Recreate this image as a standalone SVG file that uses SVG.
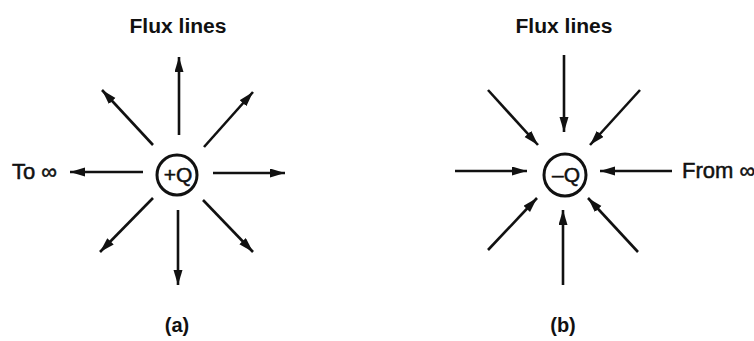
<svg xmlns="http://www.w3.org/2000/svg" width="754" height="341" viewBox="0 0 754 341">
  <style>
    .bg { fill: #ffffff; }
    .flux { stroke: #111; stroke-width: 2.6; fill: none; marker-end: url(#head); }
    .charge { fill: none; stroke: #111; stroke-width: 3; }
    .lbl { font-family: "Liberation Sans", Arial, sans-serif; fill: #111; }
    .title { font-size: 20px; font-weight: bold; text-anchor: middle; }
    .cap { font-size: 20px; font-weight: bold; text-anchor: middle; }
    .side { font-size: 22px; stroke: #111; stroke-width: 0.5; }
    .q { font-size: 21px; text-anchor: middle; stroke: #111; stroke-width: 0.5; }
  </style>
  <defs>
    <marker id="head" markerUnits="userSpaceOnUse" markerWidth="16" markerHeight="10" refX="15" refY="4.5" orient="auto">
      <path d="M0,0 L15,4.5 L0,9 Z" fill="#111"/>
    </marker>
  </defs>
  <rect class="bg" x="0" y="0" width="754" height="341"/>

  <!-- (a) positive charge: flux lines leave the charge -->
  <g id="pos-charge">
    <circle class="charge" cx="177" cy="175" r="20"/>
    <text class="lbl q" x="178" y="182">+Q</text>
  </g>
  <g id="pos-labels">
    <text class="lbl title" x="178" y="33" textLength="97" lengthAdjust="spacingAndGlyphs">Flux lines</text>
    <text class="lbl side" x="12" y="179">To ∞</text>
    <text class="lbl cap" x="177" y="332">(a)</text>
  </g>
  <g id="pos-flux">
    <line class="flux" x1="179" y1="135" x2="179" y2="57"/>
    <line class="flux" x1="178" y1="210" x2="178" y2="285"/>
    <line class="flux" x1="143" y1="172" x2="70" y2="172"/>
    <line class="flux" x1="213" y1="173" x2="285" y2="173"/>
    <line class="flux" x1="153" y1="145" x2="102" y2="90"/>
    <line class="flux" x1="204" y1="147" x2="253" y2="92"/>
    <line class="flux" x1="153" y1="198" x2="100" y2="252"/>
    <line class="flux" x1="203" y1="200" x2="253" y2="252"/>
  </g>

  <!-- (b) negative charge: flux lines end on the charge -->
  <g id="neg-charge">
    <circle class="charge" cx="565" cy="175" r="21"/>
    <text class="lbl q" x="566" y="182">–Q</text>
  </g>
  <g id="neg-labels">
    <text class="lbl title" x="564" y="33" textLength="97" lengthAdjust="spacingAndGlyphs">Flux lines</text>
    <text class="lbl side" x="682" y="178">From ∞</text>
    <text class="lbl cap" x="563" y="332">(b)</text>
  </g>
  <g id="neg-flux">
    <line class="flux" x1="564" y1="55" x2="564" y2="132"/>
    <line class="flux" x1="563" y1="285" x2="563" y2="210"/>
    <line class="flux" x1="455" y1="171" x2="527" y2="171"/>
    <line class="flux" x1="672" y1="171" x2="600" y2="171"/>
    <line class="flux" x1="488" y1="90" x2="538" y2="145"/>
    <line class="flux" x1="640" y1="90" x2="590" y2="145"/>
    <line class="flux" x1="488" y1="250" x2="537" y2="198"/>
    <line class="flux" x1="638" y1="252" x2="588" y2="198"/>
  </g>
</svg>
